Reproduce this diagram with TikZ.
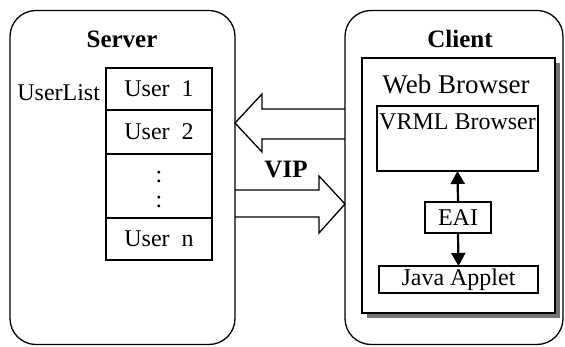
\documentclass[tikz,border=0pt]{standalone}
\usepackage{fontspec}
\setmainfont{Liberation Serif}
\usetikzlibrary{arrows.meta,shadows}
\begin{document}
\begin{tikzpicture}[x=1pt,y=-1pt,
  every node/.style={inner sep=0pt, outer sep=0pt},
  txt/.style={font=\fontsize{24}{28}\selectfont},
  title/.style={font=\fontsize{25}{30}\selectfont\bfseries},
  bigbox/.style={draw, line width=1.3pt, rounded corners=26pt},
  cell/.style={draw, line width=1.3pt, minimum width=106pt, font=\fontsize{24}{28}\selectfont},
  inbox/.style={draw, line width=1.3pt, fill=white},
  fat/.style={draw, line width=1.3pt},
  link/.style={line width=2.2pt, -{Triangle[length=13pt,width=14pt]}}]
\useasboundingbox (0,0) rectangle (565,347);
% outer boxes
\node[bigbox, minimum width=225pt, minimum height=334pt] (server) at (122.5,177.5) {};
\node[bigbox, minimum width=218pt, minimum height=334pt] (client) at (454,177.5) {};
\node[title] (stitle) at (122,39) {Server};
\node[title] (ctitle) at (460,39) {Client};
% user list
\node[cell, minimum height=42pt] (u1) at (159,89) {User\ \ 1};
\node[cell, minimum height=44pt, anchor=north] (u2) at (u1.south) {User\ \ 2};
\node[cell, minimum height=64pt, anchor=north] (ud) at (u2.south) {};
\node[cell, minimum height=42pt, anchor=north] (un) at (ud.south) {User\ \ n};
\node[txt] (d1) at (159,177) {:};
\node[txt] (d2) at (159,202) {:};
\node[txt, anchor=east] (ulist) at (100,93) {UserList};
% web browser
\node[inbox, minimum width=193pt, minimum height=255pt,
  drop shadow={shadow xshift=5pt, shadow yshift=-5pt, fill=black!55, opacity=1}] (web) at (458.5,185.5) {};
\node[font=\fontsize{27}{32}\selectfont] (wtitle) at (456,84) {Web Browser};
\node[inbox, minimum width=161pt, minimum height=65pt] (vrml) at (457.5,138.5) {};
\node[txt] (vtext) at (457.5,122) {VRML Browser};
\node[inbox, txt, minimum width=66pt, minimum height=31pt] (eai) at (458,217.5) {EAI};
\node[inbox, txt, minimum width=159pt, minimum height=27pt] (java) at (458.5,279.5) {Java Applet};
\draw[link] (eai.north) -- (vrml.south);
\draw[link] (eai.south) -- (java.north);
% big arrows
\coordinate (ltip) at (server.east |- 0,123);
\draw[fat] (client.west |- 0,109) -- (262,109) -- (262,94) -- (ltip) -- (262,152) -- (262,139) -- (client.west |- 0,139);
\coordinate (rtip) at (client.west |- 0,204);
\draw[fat] (server.east |- 0,190) -- (319,190) -- (319,176) -- (rtip) -- (319,233) -- (319,217) -- (server.east |- 0,217);
\node[title] (vip) at (286,170) {VIP};
\end{tikzpicture}
\end{document}
